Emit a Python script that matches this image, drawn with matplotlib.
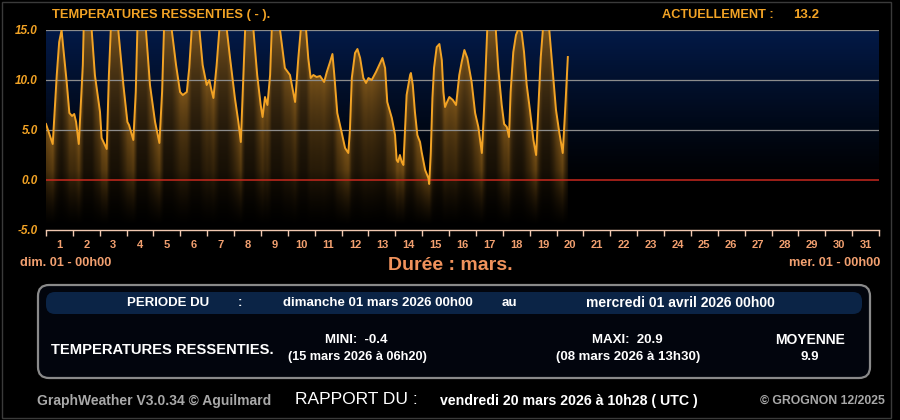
import matplotlib
matplotlib.use("Agg")
import matplotlib.pyplot as plt
import numpy as np
from matplotlib.patches import FancyBboxPatch, Rectangle

# températures ressenties, mars 2026 (jours depuis le 01 00h00, valeur en °C)
jours = np.array([
    0.00, 0.25, 0.40, 0.49, 0.58, 0.64, 0.77, 0.87, 0.97, 1.05, 1.12, 1.22, 1.29, 1.37, 1.40, 1.55, 1.70,
    1.82, 2.01, 2.07, 2.26, 2.34, 2.41, 2.55, 2.69, 2.88, 3.03, 3.09, 3.25, 3.34, 3.40, 3.56, 3.72,
    3.87, 4.06, 4.22, 4.32, 4.39, 4.54, 4.68, 4.84, 4.99, 5.09, 5.24, 5.33, 5.42, 5.56, 5.71,
    5.83, 5.98, 6.08, 6.14, 6.23, 6.35, 6.45, 6.59, 6.73, 6.85, 7.03, 7.16, 7.25, 7.32, 7.41, 7.56, 7.72,
    7.86, 7.99, 8.06, 8.15, 8.24, 8.34, 8.40, 8.55, 8.71, 8.89, 9.08, 9.27, 9.39, 9.48, 9.58, 9.68,
    9.76, 9.85, 9.95, 10.07, 10.20, 10.35, 10.45, 10.57, 10.66, 10.73, 10.84, 11.00, 11.13, 11.25,
    11.31, 11.38, 11.50, 11.59, 11.69, 11.81, 11.91, 12.00, 12.12, 12.28, 12.40, 12.52, 12.62, 12.70,
    12.87, 12.99, 13.05, 13.10, 13.17, 13.24, 13.30, 13.42, 13.55, 13.58, 13.65, 13.73, 13.82, 13.86,
    13.92, 13.98, 14.11, 14.23, 14.26, 14.32, 14.38, 14.44, 14.54, 14.64, 14.73, 14.79, 14.85, 14.91,
    15.01, 15.14, 15.26, 15.38, 15.47, 15.57, 15.68, 15.84, 15.97, 16.09, 16.22, 16.30, 16.38, 16.42,
    16.58, 16.74, 16.83, 16.96, 17.05, 17.15, 17.23, 17.29, 17.39, 17.49, 17.58, 17.70, 17.79, 17.89,
    18.01, 18.14, 18.24, 18.32, 18.41, 18.49, 18.61, 18.73, 18.86, 18.98, 19.10, 19.23, 19.32, 19.42,
])
ressenti = np.array([
    5.6, 3.6, 10.5, 13.8, 15.0, 13.3, 9.8, 6.7, 6.4, 6.6, 5.8, 3.6, 7.2, 11.5, 15.0, 17.2, 15.0,
    10.5, 6.8, 4.2, 3.1, 10.5, 15.0, 17.8, 15.0, 9.5, 5.8, 5.5, 4.0, 8.8, 15.0, 18.0, 15.0,
    9.5, 5.8, 3.7, 8.8, 15.0, 18.5, 15.0, 11.5, 8.8, 8.5, 8.8, 11.2, 15.0, 18.8, 15.0,
    11.5, 9.5, 10.0, 9.2, 8.2, 11.5, 15.0, 19.5, 15.0, 12.2, 8.2, 5.8, 3.8, 8.8, 15.0, 20.9, 15.0,
    10.5, 7.5, 6.3, 8.3, 7.5, 10.5, 15.0, 19.0, 15.0, 11.2, 10.5, 7.8, 12.2, 15.0, 17.5, 15.0,
    12.2, 10.2, 10.5, 10.3, 10.4, 9.8, 10.8, 11.8, 12.6, 10.5, 6.7, 4.8, 3.2, 2.7,
    5.0, 10.2, 12.7, 13.1, 12.2, 10.2, 9.7, 10.2, 10.0, 10.8, 11.5, 12.2, 11.2, 7.8,
    6.2, 4.5, 2.0, 1.8, 2.5, 1.8, 1.5, 8.5, 10.5, 10.7, 9.5, 6.8, 4.5, 4.2,
    3.8, 2.8, 1.0, 0.2, -0.4, 2.8, 8.2, 11.2, 13.3, 13.6, 12.0, 8.8, 7.3, 7.7,
    8.3, 8.0, 7.5, 10.5, 11.8, 13.0, 12.2, 9.8, 6.7, 5.3, 2.7, 7.0, 12.2, 15.0,
    18.5, 15.0, 11.2, 7.5, 5.6, 5.3, 4.3, 8.8, 12.8, 14.5, 15.1, 14.8, 12.8, 9.5,
    7.0, 4.0, 2.5, 7.0, 12.2, 15.0, 17.8, 15.0, 10.8, 7.0, 4.8, 2.7, 7.0, 12.3,
])
jour_labels = [str(i) for i in range(1, 32)]
y_ticks = [-5, 0, 5, 10, 15]

NARROW = ["Liberation Sans Narrow", "Liberation Sans", "DejaVu Sans"]
ORANGE = "#f2a325"
SALMON = "#f2a070"

fig = plt.figure(figsize=(9, 4.2), dpi=100)
fig.patch.set_facecolor("black")

# pixel-space axes for frame and texts
bg = fig.add_axes([0, 0, 1, 1])
bg.set_xlim(0, 900)
bg.set_ylim(420, 0)
bg.axis("off")
bg.set_facecolor("black")

ax = fig.add_axes([46 / 900, 190 / 420, 833 / 900, 200 / 420])
ax.set_xlim(0, 31)
ax.set_ylim(-5, 15)

# background gradient + glow under the curve
nx, ny = 1666, 400
tg = np.linspace(0, 31, nx)
yg = np.linspace(-5, 15, ny)
c = np.interp(tg, jours, ressenti, right=np.nan)
cv = np.minimum(c, 15)
Y = yg[:, None]
d = cv[None, :] - Y
under = np.nan_to_num(d, nan=-1) > 0
fade = np.clip((Y + 4.5) / 5.5, 0, 1)
alpha = np.where(under, 0.50 * np.exp(-np.nan_to_num(d) / 8.5) * fade, 0.0)
navy = np.array([0.01, 0.10, 0.28])
gold = np.array([0.93, 0.62, 0.16])
bgw = np.clip((Y + 1) / 16, 0, 1) ** 1.2
base = navy[None, None, :] * (bgw * (1 - 0.8 * under))[:, :, None]
rgb = base * (1 - alpha[:, :, None]) + gold[None, None, :] * alpha[:, :, None]
ax.imshow(np.clip(rgb, 0, 1), origin="lower", extent=[0, 31, -5, 15],
          aspect="auto", interpolation="bilinear", zorder=0)

for v in [5, 10, 15]:
    ax.axhline(v, color="#8c8c8c", lw=0.9, zorder=2)
ax.axhline(0, color="#c8281e", lw=1.1, zorder=2)

ax.plot(jours, ressenti, color=ORANGE, lw=1.4, zorder=3)

for s in ["top", "left", "right"]:
    ax.spines[s].set_visible(False)
ax.spines["bottom"].set_color("#f0c8b0")
ax.spines["bottom"].set_linewidth(1.0)

ax.set_xticks(np.arange(0, 32))
ax.set_xticklabels([])
ax.tick_params(axis="x", which="major", length=4, color="#f0c8b0", width=1)
ax.set_xticks(np.arange(31) + 0.5, minor=True)
ax.set_xticklabels(jour_labels, minor=True, color=SALMON, fontweight="bold",
                   fontsize=8, family=NARROW)
ax.tick_params(axis="x", which="minor", length=0, pad=7)

ax.set_yticks(y_ticks)
ax.set_yticklabels(["%.1f" % v for v in y_ticks], color=ORANGE, fontweight="bold",
                   fontstyle="italic", fontsize=8.5, family=NARROW)
ax.tick_params(axis="y", length=0, pad=6)

# header
bg.text(52, 15, "TEMPERATURES RESSENTIES ( - ).", color=ORANGE, fontsize=9.3,
        fontweight="bold", family=NARROW, va="center", ha="left")
bg.text(662, 15, "ACTUELLEMENT :", color=ORANGE, fontsize=9.2, fontweight="bold",
        family=NARROW, va="center", ha="left")
bg.text(793, 15, "13.2", color=ORANGE, fontsize=9.5, fontweight="bold",
        family=NARROW, va="center", ha="left")

# under the axis
bg.text(20, 263, "dim. 01 - 00h00", color=SALMON, fontsize=9.2, fontweight="bold",
        family=NARROW, va="center", ha="left")
bg.text(880, 263, "mer. 01 - 00h00", color=SALMON, fontsize=9.2, fontweight="bold",
        family=NARROW, va="center", ha="right")
bg.text(450, 265, "Durée : mars.", color="#f0925c", fontsize=14, fontweight="bold",
        family=NARROW, va="center", ha="center")

# summary box
bg.add_patch(FancyBboxPatch((40, 287), 828, 89, boxstyle="round,pad=2,rounding_size=11",
                            facecolor="#02050d", edgecolor="#8a8a8a", lw=1.6))
bg.add_patch(FancyBboxPatch((47, 293), 814, 20, boxstyle="round,pad=1,rounding_size=9",
                            facecolor="#0b2446", edgecolor="none"))
row = dict(color="white", fontweight="bold", family=NARROW, va="center")
bg.text(127, 303, "PERIODE DU", ha="left", fontsize=9.5, **row)
bg.text(240, 303, ":", ha="center", fontsize=9.5, **row)
bg.text(283, 303, "dimanche 01 mars 2026 00h00", ha="left", fontsize=9.5, **row)
bg.text(509, 303, "au", ha="center", fontsize=9.5, **row)
bg.text(586, 303, "mercredi 01 avril 2026 00h00", ha="left", fontsize=10, **row)

bg.text(51, 350, "TEMPERATURES RESSENTIES.", ha="left", fontsize=10.6, **row)
bg.text(356, 340, "MINI:  -0.4", ha="center", fontsize=9.5, **row)
bg.text(357, 357, "(15 mars 2026 à 06h20)", ha="center", fontsize=9.2, **row)
bg.text(627, 340, "MAXI:  20.9", ha="center", fontsize=9.5, **row)
bg.text(628, 357, "(08 mars 2026 à 13h30)", ha="center", fontsize=9.5, **row)
bg.text(810, 340, "MOYENNE", ha="center", fontsize=10, **row)
bg.text(810, 357, "9.9", ha="center", fontsize=9.5, **row)

# footer
bg.text(37, 401, "GraphWeather V3.0.34 © Aguilmard", color="#a8a8a8", fontsize=10,
        fontweight="bold", family=NARROW, va="center", ha="left")
bg.text(295, 400, "RAPPORT DU :", color="white", fontsize=12.5, family=NARROW,
        va="center", ha="left")
bg.text(440, 401, "vendredi 20 mars 2026 à 10h28 ( UTC )", color="white", fontsize=10.2,
        fontweight="bold", family=NARROW, va="center", ha="left")
bg.text(885, 401, "© GROGNON 12/2025", color="#a8a8a8", fontsize=8.8,
        fontweight="bold", family=NARROW, va="center", ha="right")

bg.add_patch(Rectangle((1.5, 1.5), 889, 416, facecolor="none", edgecolor="#3a3a3a", lw=1))

fig.savefig("out.png", dpi=100, facecolor="black")
